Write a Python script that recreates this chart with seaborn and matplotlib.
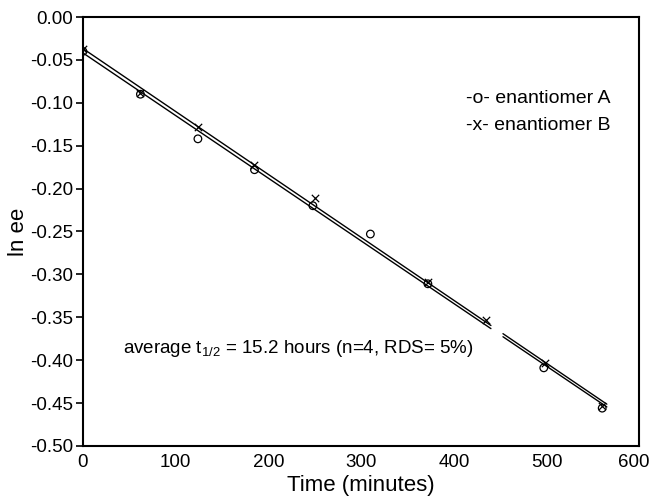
import numpy as np
import pandas as pd
import seaborn as sns
import matplotlib
matplotlib.use("Agg")
import matplotlib.pyplot as plt
import matplotlib.transforms as mtransforms

# Data
time_a = [0, 62, 124, 185, 248, 310, 372, 497, 560]
lnee_a = [-0.040, -0.090, -0.142, -0.178, -0.220, -0.253, -0.311, -0.409, -0.456]
time_b = [0, 62, 124, 185, 250, 372, 435, 498, 560]
lnee_b = [-0.037, -0.088, -0.128, -0.173, -0.211, -0.309, -0.353, -0.403, -0.453]

fit_segments = [(0, 440), (453, 565)]   # fitted lines drawn with a small break

xticks = [0, 100, 200, 300, 400, 500, 600]
yticks = [0.00, -0.05, -0.10, -0.15, -0.20, -0.25, -0.30, -0.35, -0.40, -0.45, -0.50]

sns.set_theme(style="white")
plt.rcParams['font.family'] = ['Liberation Sans', 'DejaVu Sans']

df = pd.concat([
    pd.DataFrame({"time": time_a, "lnee": lnee_a, "series": "A"}),
    pd.DataFrame({"time": time_b, "lnee": lnee_b, "series": "B"}),
])

fig = plt.figure(figsize=(6.53, 5.01), dpi=100)
ax = fig.add_axes([0.127, 0.110, 0.852, 0.856])

# regression lines (least squares fits), drawn as segments
for t, y in [(time_a, lnee_a), (time_b, lnee_b)]:
    k, b = np.polyfit(t, y, 1)
    for x0, x1 in fit_segments:
        xs = np.array([x0, x1])
        sns.lineplot(x=xs, y=k * xs + b, ax=ax, color="black", lw=1.0,
                     legend=False, zorder=2)

sns.scatterplot(data=df[df.series == "A"], x="time", y="lnee", ax=ax,
                marker="o", s=30, facecolor="none", edgecolor="black",
                linewidth=0.9, zorder=3, legend=False)
sns.scatterplot(data=df[df.series == "B"], x="time", y="lnee", ax=ax,
                marker="x", s=28, color="black", linewidth=0.9, zorder=3,
                legend=False)

ax.set_xlim(0, 600)
ax.set_ylim(-0.50, 0.00)
ax.set_xticks(xticks)
ax.set_yticks(yticks)
ax.set_yticklabels([f"{v:.2f}" for v in yticks])
ax.tick_params(axis="y", direction="out", length=5, width=1.2, labelsize=13.5,
               left=True, pad=2, colors="black")
ax.tick_params(axis="x", length=0, labelsize=13.5, pad=6, colors="black")
for s in ax.spines.values():
    s.set_color("black")
    s.set_linewidth(1.5)

# the last x tick label sits slightly left of the right spine
last = ax.get_xticklabels()[-1]
last.set_transform(last.get_transform() +
                   mtransforms.ScaledTranslation(-6 / 100, 0, fig.dpi_scale_trans))

ax.set_xlabel("Time (minutes)", fontsize=16, labelpad=3, color="black")
ax.set_ylabel("ln ee", fontsize=16, labelpad=1, color="black")

ax.text(0.688, 0.809, "-o- enantiomer A", transform=ax.transAxes,
        fontsize=14, ha="left", va="center", color="black")
ax.text(0.688, 0.746, "-x- enantiomer B", transform=ax.transAxes,
        fontsize=14, ha="left", va="center", color="black")
ax.text(0.072, 0.228, r"average t$_{\mathregular{1/2}}$ = 15.2 hours (n=4, RDS= 5%)",
        transform=ax.transAxes, fontsize=13.5, ha="left", va="center", color="black")

fig.savefig("out.png", dpi=100)
